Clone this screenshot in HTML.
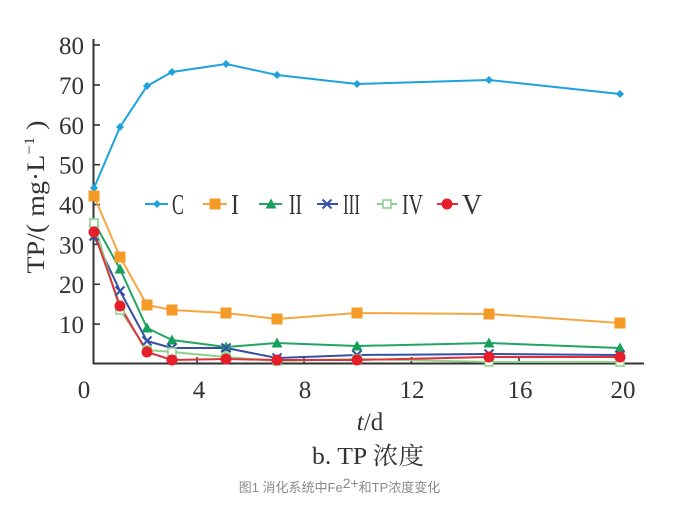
<!DOCTYPE html>
<html>
<head>
<meta charset="utf-8">
<style>
  html, body { margin:0; padding:0; background:#fff; }
  body { width:679px; height:514px; position:relative; overflow:hidden; }
  svg { position:absolute; left:0; top:0; }
  .cap { position:absolute; left:0; width:679px; top:478px; text-align:center;
         font-family:"Liberation Sans","Noto Sans CJK SC",sans-serif; font-size:13px; color:#8a8a8a; line-height:19px; }
  .cap sup { font-size:14px; line-height:0; vertical-align:4px; }
</style>
</head>
<body>
<svg width="679" height="514" viewBox="0 0 679 514" xmlns="http://www.w3.org/2000/svg">
  <defs>
    <g id="mC"><polygon points="0,-4 4,0 0,4 -4,0" fill="#1ea2de"/></g>
    <g id="mI"><rect x="-5.5" y="-5.5" width="11" height="11" fill="#f39a27"/></g>
    <g id="mII"><polygon points="0,-5.5 5.5,4.5 -5.5,4.5" fill="#17a05a"/></g>
    <g id="mIII" stroke="#3650a6" stroke-width="2" fill="none"><line x1="-4.5" y1="-4.5" x2="4.5" y2="4.5"/><line x1="-4.5" y1="4.5" x2="4.5" y2="-4.5"/></g>
    <g id="mIV"><rect x="-4" y="-4" width="8" height="8" fill="#fff" stroke="#8fd08f" stroke-width="1.6"/></g>
    <g id="mV"><circle r="5.5" fill="#e61e2a"/></g>
  </defs>

  <!-- axes -->
  <g stroke="#333" stroke-width="2" fill="none">
    <line x1="93.5" y1="39" x2="93.5" y2="364"/>
    <line x1="93" y1="363.5" x2="644" y2="363.5"/>
  </g>
  <g stroke="#333" stroke-width="1.6">
    <line x1="93" y1="45" x2="100" y2="45"/>
    <line x1="93" y1="85" x2="100" y2="85"/>
    <line x1="93" y1="125" x2="100" y2="125"/>
    <line x1="93" y1="164.7" x2="100" y2="164.7"/>
    <line x1="93" y1="204.6" x2="100" y2="204.6"/>
    <line x1="93" y1="244.4" x2="100" y2="244.4"/>
    <line x1="93" y1="284.3" x2="100" y2="284.3"/>
    <line x1="93" y1="324.1" x2="100" y2="324.1"/>
    <line x1="197" y1="363" x2="197" y2="357"/>
    <line x1="304" y1="363" x2="304" y2="357"/>
    <line x1="411.5" y1="363" x2="411.5" y2="357"/>
    <line x1="519" y1="363" x2="519" y2="357"/>
  </g>

  <!-- y tick labels -->
  <g font-family="Liberation Serif, serif" font-size="25" fill="#333" text-anchor="end">
    <text x="84" y="54">80</text>
    <text x="84" y="94">70</text>
    <text x="84" y="134">60</text>
    <text x="84" y="173.5">50</text>
    <text x="84" y="213.5">40</text>
    <text x="84" y="253.5">30</text>
    <text x="84" y="293">20</text>
    <text x="84" y="333">10</text>
  </g>
  <!-- x tick labels -->
  <g font-family="Liberation Serif, serif" font-size="25" fill="#333" text-anchor="middle">
    <text x="84" y="398">0</text>
    <text x="199" y="398">4</text>
    <text x="305" y="398">8</text>
    <text x="412" y="398">12</text>
    <text x="520" y="398">16</text>
    <text x="623" y="398">20</text>
  </g>

  <!-- y axis title -->
  <text transform="translate(44,197) rotate(-90)" font-family="Liberation Serif, serif" font-size="25" fill="#333" text-anchor="middle" textLength="153" lengthAdjust="spacingAndGlyphs">TP/( mg·L<tspan font-size="15" dy="-10">−1</tspan><tspan dy="10"> )</tspan></text>

  <!-- x axis titles -->
  <text x="370" y="430" font-family="Liberation Serif, serif" font-size="25" fill="#333" text-anchor="middle"><tspan font-style="italic">t</tspan>/d</text>
  <text x="368" y="464" font-family="Liberation Serif, 'Noto Serif CJK SC', serif" font-size="24" fill="#333" text-anchor="middle" textLength="112" lengthAdjust="spacingAndGlyphs">b. TP 浓度</text>

  <!-- series lines -->
  <g fill="none" stroke-width="2" stroke-linejoin="round">
    <polyline stroke="#1ea2de" points="94,188 120,127 147,86 172,72 226,64 277,75 357,84 489,80 620,94"/>
    <polyline stroke="#f5a640" points="94,196 120,257 147,305 172,310 226,313 277,319 357,313 489,314 620,323"/>
    <polyline stroke="#22a562" points="94,222 120,269 147,328 172,340 226,347 277,343 357,346 489,343 620,348"/>
    <polyline stroke="#3650a6" points="94,236 120,291 147,341 172,348 226,348 277,358 357,355 489,354 620,355"/>
    <polyline stroke="#8fd08f" points="94,223 120,310 147,350 172,352 226,357 277,361 357,359 489,362 620,362"/>
    <polyline stroke="#e0303a" points="94,232 120,306 147,352 172,360 226,359 277,360 357,360 489,357 620,357"/>
  </g>

  <!-- markers -->
  <g>
    <use href="#mC" x="94" y="188"/><use href="#mC" x="120" y="127"/><use href="#mC" x="147" y="86"/><use href="#mC" x="172" y="72"/><use href="#mC" x="226" y="64"/><use href="#mC" x="277" y="75"/><use href="#mC" x="357" y="84"/><use href="#mC" x="489" y="80"/><use href="#mC" x="620" y="94"/>
    <use href="#mI" x="94" y="196"/><use href="#mI" x="120" y="257"/><use href="#mI" x="147" y="305"/><use href="#mI" x="172" y="310"/><use href="#mI" x="226" y="313"/><use href="#mI" x="277" y="319"/><use href="#mI" x="357" y="313"/><use href="#mI" x="489" y="314"/><use href="#mI" x="620" y="323"/>
    <use href="#mII" x="94" y="222"/><use href="#mII" x="120" y="269"/><use href="#mII" x="147" y="328"/><use href="#mII" x="172" y="340"/><use href="#mII" x="226" y="347"/><use href="#mII" x="277" y="343"/><use href="#mII" x="357" y="346"/><use href="#mII" x="489" y="343"/><use href="#mII" x="620" y="348"/>
    <use href="#mIII" x="94" y="236"/><use href="#mIII" x="120" y="291"/><use href="#mIII" x="147" y="341"/><use href="#mIII" x="172" y="348"/><use href="#mIII" x="226" y="348"/><use href="#mIII" x="277" y="358"/><use href="#mIII" x="357" y="355"/><use href="#mIII" x="489" y="354"/><use href="#mIII" x="620" y="355"/>
    <use href="#mIV" x="94" y="223"/><use href="#mIV" x="120" y="310"/><use href="#mIV" x="147" y="350"/><use href="#mIV" x="172" y="352"/><use href="#mIV" x="226" y="357"/><use href="#mIV" x="277" y="361"/><use href="#mIV" x="357" y="359"/><use href="#mIV" x="489" y="362"/><use href="#mIV" x="620" y="362"/>
    <use href="#mV" x="94" y="232"/><use href="#mV" x="120" y="306"/><use href="#mV" x="147" y="352"/><use href="#mV" x="172" y="360"/><use href="#mV" x="226" y="359"/><use href="#mV" x="277" y="360"/><use href="#mV" x="357" y="360"/><use href="#mV" x="489" y="357"/><use href="#mV" x="620" y="357"/>
  </g>

  <!-- legend -->
  <g stroke-width="2">
    <line x1="145" y1="204" x2="168" y2="204" stroke="#1ea2de"/><use href="#mC" x="157" y="204"/>
    <line x1="203" y1="204" x2="227" y2="204" stroke="#f5a640"/><use href="#mI" x="215" y="204"/>
    <line x1="259" y1="204" x2="282" y2="204" stroke="#22a562"/><use href="#mII" x="271" y="204"/>
    <line x1="317" y1="204" x2="338" y2="204" stroke="#3650a6"/><use href="#mIII" x="327" y="204"/>
    <line x1="377" y1="204" x2="397" y2="204" stroke="#8fd08f"/><use href="#mIV" x="387" y="204"/>
    <line x1="437" y1="204" x2="458" y2="204" stroke="#e0303a"/><use href="#mV" x="447" y="204"/>
  </g>
  <g font-family="Liberation Serif, serif" font-size="29" fill="#333">
    <text x="172" y="214" textLength="12" lengthAdjust="spacingAndGlyphs">C</text>
    <text x="231" y="214" textLength="8" lengthAdjust="spacingAndGlyphs">I</text>
    <text x="289" y="214" textLength="13" lengthAdjust="spacingAndGlyphs">II</text>
    <text x="343" y="214" textLength="17" lengthAdjust="spacingAndGlyphs">III</text>
    <text x="402" y="214" textLength="21" lengthAdjust="spacingAndGlyphs">IV</text>
    <text x="462" y="214" textLength="20" lengthAdjust="spacingAndGlyphs">V</text>
  </g>
</svg>
<div class="cap">图1 消化系统中Fe<sup>2+</sup>和TP浓度变化</div>
</body>
</html>
